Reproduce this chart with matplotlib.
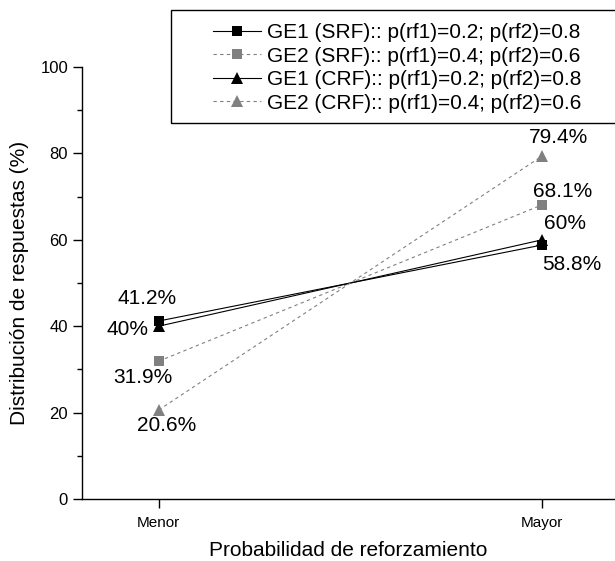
import matplotlib
matplotlib.use('Agg')
import matplotlib.pyplot as plt
from matplotlib.patches import Rectangle

plt.rcParams['font.family'] = ['Liberation Sans', 'DejaVu Sans']

categories = ['Menor', 'Mayor']
ge1_srf = [41.2, 58.8]
ge2_srf = [31.9, 68.1]
ge1_crf = [40.0, 60.0]
ge2_crf = [20.6, 79.4]
series_labels = ['GE1 (SRF):: p(rf1)=0.2; p(rf2)=0.8',
                 'GE2 (SRF):: p(rf1)=0.4; p(rf2)=0.6',
                 'GE1 (CRF):: p(rf1)=0.2; p(rf2)=0.8',
                 'GE2 (CRF):: p(rf1)=0.4; p(rf2)=0.6']

# label offsets in pixels (dx, dy) for each point
offsets_srf1 = [(-12, 23), (30, -20)]
offsets_srf2 = [(-16, -16), (20, 13)]
offsets_crf1 = [(-31, -3), (23, 16)]
offsets_crf2 = [(8, -15), (16, 18)]

GRAY = '#808080'

fig = plt.figure(figsize=(6.15, 5.61), dpi=100)
ax = fig.add_axes([82/615, 1 - 499/561, 1 - 82/615, (499 - 67)/561])

x = [1, 2]
styles = [
    (ge1_srf, 's', 'black', '-', 6.5, offsets_srf1),
    (ge2_srf, 's', GRAY, (0, (3, 3)), 6.5, offsets_srf2),
    (ge1_crf, '^', 'black', '-', 8, offsets_crf1),
    (ge2_crf, '^', GRAY, (0, (3, 3)), 8, offsets_crf2),
]
handles = []
for (vals, mk, col, ls, ms, offs), lab in zip(styles, series_labels):
    h, = ax.plot(x, vals, marker=mk, color=col, linestyle=ls, lw=0.8,
                 markersize=ms, markeredgewidth=0, label=lab)
    handles.append(h)
    for xi, v, (dx, dy) in zip(x, vals, offs):
        txt = ('%g' % v) + '%'
        ax.annotate(txt, (xi, v), xytext=(dx, dy), textcoords='offset pixels',
                    ha='center', va='center', fontsize=15)

ax.set_xlim(0.8, 2.19)
ax.set_ylim(0, 100)
ax.set_xticks(x)
ax.set_xticklabels(categories, fontsize=11)
ax.set_yticks([0, 20, 40, 60, 80, 100])
ax.set_yticks([10, 30, 50, 70, 90], minor=True)
ax.tick_params(axis='y', labelsize=12)
ax.tick_params(axis='x', pad=6)
ax.tick_params(which='major', direction='out', length=6.5, width=1)
ax.tick_params(which='minor', direction='out', length=3.5, width=1)
for s in ['top', 'right']:
    ax.spines[s].set_visible(False)
for s in ['left', 'bottom']:
    ax.spines[s].set_linewidth(1)

ax.set_xlabel('Probabilidad de reforzamiento', fontsize=15, labelpad=8)
ax.set_ylabel('Distribución de respuestas (%)', fontsize=15, labelpad=8)

leg = fig.legend(handles=handles, loc='upper left', frameon=False,
                 bbox_to_anchor=(213/615, 1 - 23/561), borderpad=0,
                 fontsize=15, handlelength=2.3, handletextpad=0.3,
                 labelspacing=0.22, borderaxespad=0)

fig.patches.append(Rectangle((171/615, 1 - 123/561), 1.0, (123 - 10)/561,
                             transform=fig.transFigure, fill=False,
                             edgecolor='black', linewidth=1))

fig.savefig('out.png', dpi=100)
